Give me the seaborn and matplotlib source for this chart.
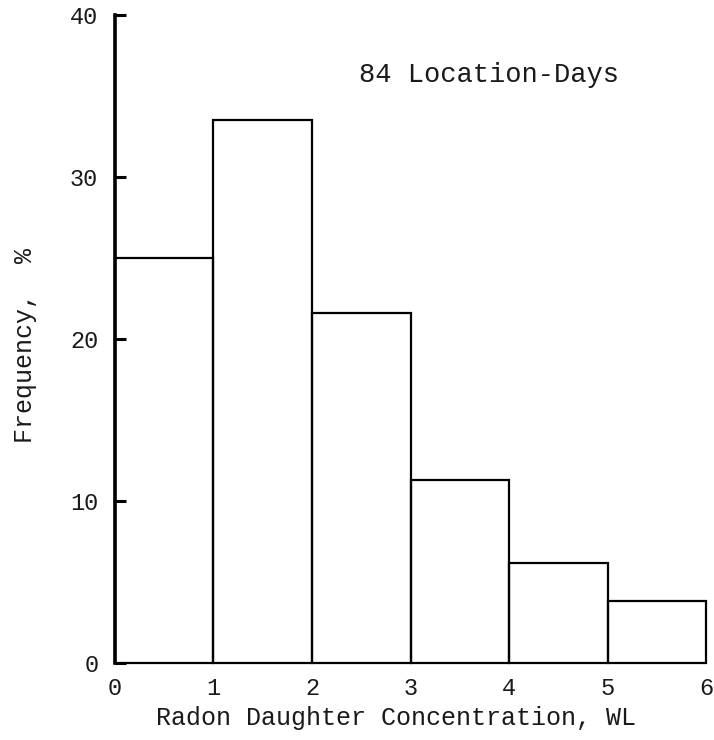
import matplotlib
matplotlib.use("Agg")
import matplotlib.pyplot as plt
import seaborn as sns
import numpy as np

# Frequency (%) of radon daughter concentration per 1-WL interval
bin_edges = [0, 1, 2, 3, 4, 5, 6]
bin_mids = [0.5, 1.5, 2.5, 3.5, 4.5, 5.5]
frequency = [25.0, 33.5, 21.6, 11.3, 6.2, 3.8]
x_ticks = [0, 1, 2, 3, 4, 5, 6]
y_ticks = [0, 10, 20, 30, 40]

sns.set_theme(style="white")
plt.rcParams["font.family"] = ["Liberation Mono", "DejaVu Sans Mono"]

fig = plt.figure(figsize=(7.14, 7.4), dpi=100)
ax = fig.add_axes([0.161, 0.104, 0.828, 0.876])

sns.histplot(x=bin_mids, weights=frequency, bins=bin_edges, fill=False,
             color="black", linewidth=1.6, ax=ax)

for side in ["top", "right", "bottom"]:
    ax.spines[side].set_visible(False)
ax.spines["left"].set_linewidth(2.6)
ax.spines["left"].set_color("black")

ax.set_xlim(0, 6)
ax.set_ylim(0, 40)
ax.set_xticks(x_ticks)
ax.set_yticks(y_ticks)
ax.set_xticklabels([str(v) for v in x_ticks], fontsize=17, color="#1a1a1a")
ax.set_yticklabels([str(v) for v in y_ticks], fontsize=17, color="#1a1a1a")
ax.tick_params(axis="y", left=True, direction="in", length=8, width=2.2,
               color="black", pad=12)
ax.tick_params(axis="x", bottom=False, length=0, pad=10)

ax.set_xlabel("Radon Daughter Concentration, WL", fontsize=18, color="#1a1a1a")
ax.xaxis.set_label_coords(0.475, -0.085)
ax.xaxis.label.set_va("center")

ax.set_ylabel("Frequency,  %", fontsize=18, color="#1a1a1a")
ax.yaxis.set_label_coords(-0.152, 0.49)
ax.yaxis.label.set_va("center")

ax.text(3.8, 36.3, "84 Location-Days", fontsize=19.5, color="#1a1a1a",
        ha="center", va="center")

for p in ax.patches:
    p.set_clip_on(False)

fig.savefig("out.png", dpi=100, facecolor="white")
